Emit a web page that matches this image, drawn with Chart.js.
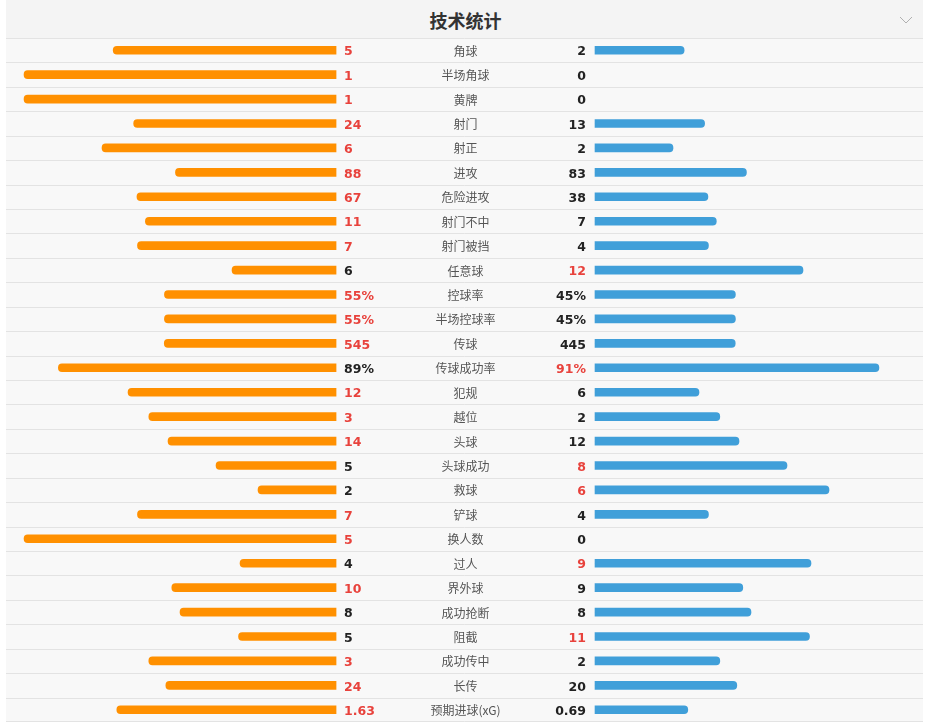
<!DOCTYPE html>
<html>
<head>
<meta charset="utf-8">
<script src="https://cdn.jsdelivr.net/npm/chart.js@4"></script>
<style>
  html, body { margin: 0; padding: 0; background: #ffffff; width: 929px; height: 722px; overflow: hidden; }
  #panel { position: absolute; left: 6px; top: 0; width: 917px; height: 722px; background: #f8f8f8; }
  #header { position: absolute; left: 0; top: 0; width: 917px; height: 38px; background: #f4f4f4; }
  #title { position: absolute; left: 0; top: 0; width: 919px; height: 38px; line-height: 40px; text-align: center;
           font-family: "Noto Sans CJK SC", sans-serif; font-weight: bold; font-size: 18px; color: #333; }
  #chev { position: absolute; left: 893px; top: 15px; }
  #wrap { position: absolute; left: 0; top: 38px; width: 917px; height: 684px; }
</style>
</head>
<body>
<div id="panel">
  <div id="header"><div id="title">技术统计</div>
    <svg id="chev" width="14" height="10"><polyline points="1,2 7,8 13,2" fill="none" stroke="#b0b0b0" stroke-width="1"/></svg>
  </div>
  <div id="wrap"><canvas id="c" width="917" height="684"></canvas></div>
</div>
<script>
const categories = ['角球','半场角球','黄牌','射门','射正','进攻','危险进攻','射门不中','射门被挡','任意球','控球率','半场控球率','传球','传球成功率','犯规','越位','头球','头球成功','救球','铲球','换人数','过人','界外球','成功抢断','阻截','成功传中','长传','预期进球(xG)'];
const homeValues = ['5','1','1','24','6','88','67','11','7','6','55%','55%','545','89%','12','3','14','5','2','7','5','4','10','8','5','3','24','1.63'];
const awayValues = ['2','0','0','13','2','83','38','7','4','12','45%','45%','445','91%','6','2','12','8','6','4','0','9','9','8','11','2','20','0.69'];

const HOME_COLOR = '#ff9000';
const AWAY_COLOR = '#409fd9';
const HIGHLIGHT = '#e8423c';
const NORMAL = '#222222';

// scale units: 1 = full bar length
const GAP = 0.415;      // half gap between the two bar sides
const X_MIN = -1.4728;
const X_MAX = 1.4663;

function share(a, b) {
  const isPct = a.endsWith('%');
  const va = parseFloat(a), vb = parseFloat(b);
  if (isPct) return [va / 100, vb / 100];
  const t = va + vb;
  return t > 0 ? [va / t, vb / t] : [0, 0];
}
const shares = categories.map((_, i) => share(homeValues[i], awayValues[i]));
const homeData = shares.map(s => s[0] > 0 ? [-(GAP + s[0]), -GAP] : null);
const awayData = shares.map(s => s[1] > 0 ? [GAP, GAP + s[1]] : null);

const rowsPlugin = {
  id: 'rows',
  beforeDatasetsDraw(chart) {
    const ctx = chart.ctx, y = chart.scales.y;
    const n = categories.length;
    const band = (y.bottom - y.top) / n;
    ctx.save();
    ctx.strokeStyle = '#e3e3e3';
    ctx.lineWidth = 1;
    for (let k = 0; k <= n; k++) {
      const yy = Math.round(y.top + k * band) + 0.5 - (k === n ? 1 : 0);
      ctx.beginPath();
      ctx.moveTo(0, yy);
      ctx.lineTo(chart.width, yy);
      ctx.stroke();
    }
    ctx.restore();
  },
  afterDatasetsDraw(chart) {
    const ctx = chart.ctx, x = chart.scales.x, y = chart.scales.y;
    const lx = x.getPixelForValue(-GAP) + 8;
    const rx = x.getPixelForValue(GAP) - 9;
    const cx = x.getPixelForValue(0);
    ctx.save();
    ctx.textBaseline = 'middle';
    categories.forEach((cat, i) => {
      const yy = y.getPixelForValue(i) + 2;
      const a = parseFloat(homeValues[i]), b = parseFloat(awayValues[i]);
      ctx.font = 'bold 12.5px "DejaVu Sans", sans-serif';
      ctx.textAlign = 'left';
      ctx.fillStyle = a > b ? HIGHLIGHT : NORMAL;
      ctx.fillText(homeValues[i], lx, yy);
      ctx.textAlign = 'right';
      ctx.fillStyle = b > a ? HIGHLIGHT : NORMAL;
      ctx.fillText(awayValues[i], rx, yy);
      ctx.font = '12px "Noto Sans CJK SC", sans-serif';
      ctx.textAlign = 'center';
      ctx.fillStyle = '#555555';
      ctx.fillText(cat, cx, yy - 1);
    });
    ctx.restore();
  }
};

new Chart(document.getElementById('c'), {
  type: 'bar',
  data: {
    labels: categories,
    datasets: [
      { label: 'home', data: homeData, backgroundColor: HOME_COLOR, barThickness: 8, borderRadius: 4, borderSkipped: 'start', grouped: false },
      { label: 'away', data: awayData, backgroundColor: AWAY_COLOR, barThickness: 8, borderRadius: 4, borderSkipped: 'start', grouped: false }
    ]
  },
  options: {
    indexAxis: 'y',
    responsive: false,
    maintainAspectRatio: false,
    animation: false,
    devicePixelRatio: 1,
    layout: { padding: 0 },
    plugins: { legend: { display: false }, tooltip: { enabled: false }, title: { display: false } },
    scales: {
      x: { type: 'linear', display: false, min: X_MIN, max: X_MAX },
      y: { type: 'category', display: false, offset: true }
    }
  },
  plugins: [rowsPlugin]
});
</script>
</body>
</html>
